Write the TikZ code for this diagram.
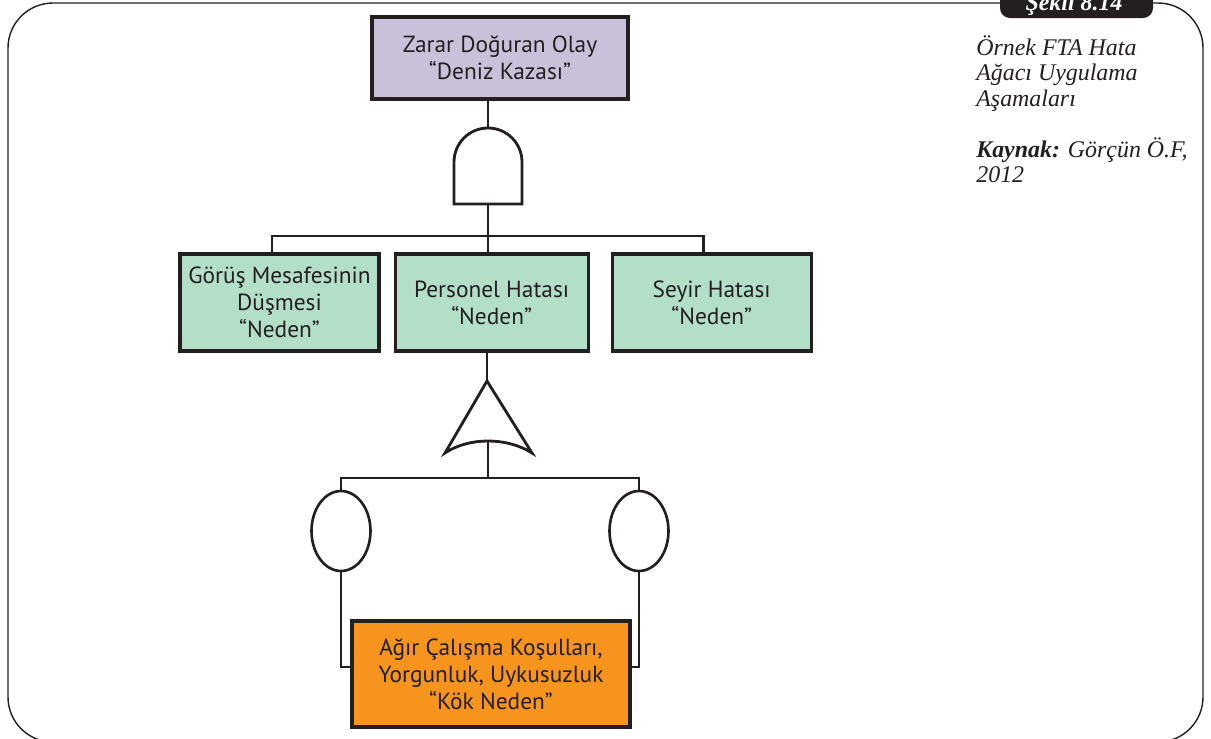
\documentclass[tikz,border=0pt]{standalone}
\usepackage{fontspec}
\setmainfont{Liberation Serif}
\setsansfont{PT Sans}
\usepackage{tikz}
\usetikzlibrary{positioning,shapes.geometric}
\definecolor{ink}{HTML}{231F20}
\definecolor{eventc}{HTML}{C9C0D9}
\definecolor{causec}{HTML}{B3DEC7}
\definecolor{rootc}{HTML}{F7941E}
\tikzset{
  blk/.style={draw=ink, line width=1.8pt, text=ink, align=center, inner sep=2pt,
              font=\sffamily\fontsize{13.3}{15.5}\selectfont},
  event/.style={blk, fill=eventc},
  cause/.style={blk, fill=causec, minimum height=1.94cm},
  rootb/.style={blk, fill=rootc},
  cond/.style={ellipse, draw=ink, line width=1.5pt, fill=white, inner sep=0pt,
               minimum width=1.18cm, minimum height=1.6cm},
  wire/.style={draw=ink, line width=1.6pt},
  capt/.style={font=\itshape\fontsize{13.6}{14.5}\selectfont, text=ink, align=left, inner sep=0pt},
}

\begin{document}
\begin{tikzpicture}[x=0.02cm, y=-0.02cm]
  \useasboundingbox (0,0) rectangle (1211,738);
  % page frame and figure tab
  \draw[ink, line width=0.8pt, rounded corners=0.9cm] (8,3) rectangle (1203,742);
  \fill[ink, rounded corners=0.2cm] (1000,-20) rectangle (1153,18);
  \node[text=white, font=\bfseries\itshape\fontsize{13.6}{13.6}\selectfont, anchor=base] (tab) at (1074,10) {Şekil 8.14};

  % top event and AND gate
  \node[event, minimum width=5.12cm, minimum height=1.64cm] (top) at (500,58) {Zarar Doğuran Olay\\“Deniz Kazası”};
  \coordinate (andin) at (488,128);
  \coordinate (andout) at (488,204);
  \draw[wire] (454,204) -- (454,162) arc[start angle=180, end angle=360, radius=34] -- (522,204) -- cycle;
  \draw[wire] (top.south -| andin) -- (andin);
  \draw[wire] (andout) -- (488,236) coordinate (bus);

  % causes
  \node[cause, minimum width=3.98cm] (gorus) at (279.5,302.5) {Görüş Mesafesinin\\Düşmesi\\“Neden”};
  \node[cause, minimum width=3.86cm, right=0.26cm of gorus] (personel) {Personel Hatası\\“Neden”};
  \node[cause, minimum width=3.98cm, right=0.42cm of personel] (seyir) {Seyir Hatası\\“Neden”};
  \draw[wire] ([xshift=-0.15cm]gorus.north) |- (bus) -| ([xshift=-0.17cm]seyir.north);
  \draw[wire] (bus) -- (bus |- personel.north);

  % gate under the personnel error
  \coordinate (orin) at (487,381);
  \coordinate (orout) at (488,441);
  \draw[wire] (orin) -- (532,453) .. controls (507,437) and (469,437) .. (445,453) -- cycle;
  \draw[wire] (personel.south -| orin) -- (orin);
  \draw[wire] (orout) -- (488,478) coordinate (bus2);

  % conditions and root cause
  \node[cond] (ovl) at (341,531) {};
  \node[cond] (ovr) at (639,531) {};
  \draw[wire] (ovl.north) |- (bus2) -| (ovr.north);
  \node[rootb, minimum width=5.56cm, minimum height=2.12cm] (kok) at (491,674) {Ağır Çalışma Koşulları,\\Yorgunluk, Uykusuzluk\\“Kök Neden”};
  \draw[wire] (ovl.south) |- ([yshift=0.14cm]kok.west);
  \draw[wire] (ovr.south) |- ([yshift=0.14cm]kok.east);

  % caption
  \node[capt, anchor=north west] (cap) at (976,35) {Örnek FTA Hata\\Ağacı Uygulama\\Aşamaları\\[14.5pt]\textbf{Kaynak:} Görçün Ö.F,\\2012};
\end{tikzpicture}
\end{document}
